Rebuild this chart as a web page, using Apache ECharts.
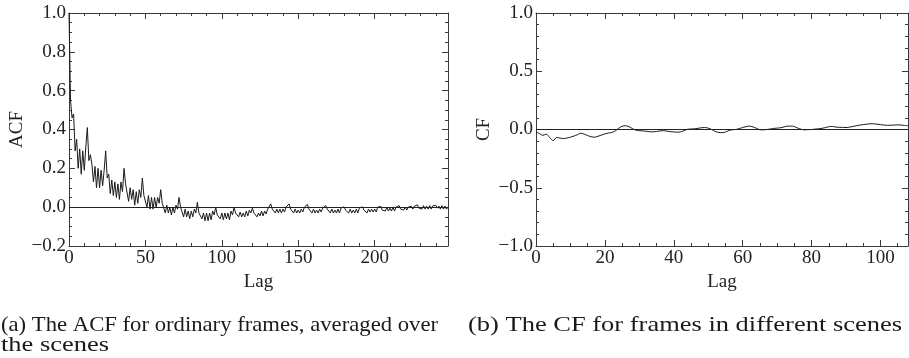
<!DOCTYPE html>
<html>
<head>
<meta charset="utf-8">
<script src="https://cdn.jsdelivr.net/npm/echarts@6/dist/echarts.min.js"></script>
<style>
html,body{margin:0;padding:0;background:#fff;}
#chart{width:909px;height:358px;}
</style>
</head>
<body>
<div id="chart"></div>
<script>
// ACF for ordinary frames (lag 0..248)
const acfValues = [
1.00, 0.55, 0.46, 0.48, 0.29, 0.35, 0.20, 0.30, 0.17, 0.29, 0.19, 0.31,
0.41, 0.24, 0.27, 0.22, 0.13, 0.21, 0.10, 0.20, 0.10, 0.19, 0.11, 0.19,
0.29, 0.15, 0.17, 0.07, 0.14, 0.06, 0.13, 0.05, 0.12, 0.04, 0.13, 0.08,
0.20, 0.12, 0.13, 0.03, 0.10, 0.04, 0.09, 0.01, 0.08, 0.02, 0.09, 0.05,
0.15, 0.06, 0.07, 0.00, 0.06, -0.01, 0.05, -0.01, 0.05, 0.00, 0.05, 0.02,
0.09, 0.02, 0.03, -0.03, 0.01, -0.03, 0.00, -0.04, 0.00, -0.03, 0.01, -0.01,
0.05, 0.00, 0.00, -0.05, -0.01, -0.05, -0.02, -0.06, -0.02, -0.05, -0.01, -0.03,
0.025, -0.03, -0.03, -0.06, -0.03, -0.07, -0.03, -0.07, -0.03, -0.065, -0.02, -0.04,
0.00, -0.04, -0.04, -0.06, -0.03, -0.065, -0.03, -0.06, -0.03, -0.065, -0.02, -0.04,
0.00, -0.03, -0.03, -0.05, -0.025, -0.05, -0.03, -0.05, -0.02, -0.045, -0.015, -0.03,
-0.005, -0.03, -0.03, -0.05, -0.03, -0.045, -0.02, -0.045, -0.02, -0.035, -0.01, -0.02,
0.017, -0.01, -0.01, -0.03, -0.01, -0.03, -0.01, -0.03, -0.01, -0.025, 0.00, -0.01,
0.017, -0.01, -0.01, -0.03, -0.01, -0.03, -0.015, -0.03, -0.01, -0.025, 0.00, -0.01,
0.014, -0.01, -0.01, -0.03, -0.01, -0.03, -0.015, -0.03, -0.01, -0.025, -0.005, -0.01,
0.008, -0.01, -0.015, -0.03, -0.01, -0.03, -0.015, -0.03, -0.01, -0.03, -0.005, -0.015,
0.002, -0.015, -0.015, -0.03, -0.01, -0.03, -0.015, -0.03, -0.01, -0.03, -0.005, -0.015,
0.002, -0.015, -0.01, -0.03, -0.01, -0.025, -0.01, -0.025, -0.01, -0.025, 0.00, -0.01,
0.004, -0.015, -0.005, -0.02, 0.00, -0.02, -0.005, -0.02, 0.00, -0.02, 0.00, -0.01,
0.008, -0.01, 0.00, -0.015, 0.00, -0.015, 0.00, -0.01, 0.005, -0.01, 0.005, 0.00,
0.012, -0.005, 0.005, -0.01, 0.008, -0.01, 0.005, -0.01, 0.008, -0.01, 0.006, 0.00,
0.01, -0.005, 0.006, -0.01, 0.008, -0.01, 0.006, -0.01, 0.00
];
// CF for frames in different scenes (lag 0..108)
const cfValues = [
-0.02, -0.035, -0.05, -0.04, -0.07, -0.095, -0.068, -0.074, -0.078, -0.073,
-0.066, -0.056, -0.045, -0.032, -0.04, -0.052, -0.062, -0.066, -0.058, -0.048,
-0.038, -0.03, -0.026, -0.012, 0.01, 0.028, 0.032, 0.024, 0.008, -0.006,
-0.01, -0.012, -0.015, -0.019, -0.02, -0.017, -0.012, -0.01, -0.014, -0.018,
-0.021, -0.023, -0.02, -0.01, 0.002, 0.004, 0.006, 0.01, 0.015, 0.017,
0.012, 0.0, -0.016, -0.025, -0.027, -0.022, -0.008, -0.002, 0.0, 0.008,
0.017, 0.025, 0.029, 0.022, 0.01, -0.002, -0.003, 0.0, 0.004, 0.009,
0.012, 0.015, 0.022, 0.029, 0.029, 0.025, 0.012, 0.002, -0.003, -0.001,
0.0, 0.003, 0.006, 0.01, 0.016, 0.024, 0.026, 0.021, 0.019, 0.018,
0.017, 0.02, 0.026, 0.032, 0.038, 0.042, 0.046, 0.049, 0.049, 0.046,
0.042, 0.038, 0.036, 0.037, 0.038, 0.04, 0.038, 0.035, 0.032
];
const acfTicks = [0, 50, 100, 150, 200];
const cfTicks = [0, 20, 40, 60, 80, 100];
const captionA1 = '(a) The ACF for ordinary frames, averaged over';
const captionA2 = 'the scenes';
const captionB = '(b) The CF for frames in different scenes';

const FONT = 'Liberation Serif';
const CAP_SIZE = 21;
const frameColor = '#3a3a3a';
const fmtNum = v => (v < 0 ? '\u2212' : '') + Math.abs(v).toFixed(1);

// measure caption widths to stretch them to the reference's line widths
const mctx = document.createElement('canvas').getContext('2d');
mctx.font = CAP_SIZE + 'px "' + FONT + '"';
const wB = mctx.measureText(captionB).width;
const wA1 = mctx.measureText(captionA1).width;
const scaleB = 434 / wB;
const scaleA1 = 437 / wA1;

function xAx(grid, max, interval, minorSplit, top, name, ticks) {
  return {
    type: 'value', gridIndex: grid, min: 0, max: max, interval: interval,
    position: top ? 'top' : 'bottom',
    name: top ? '' : name, nameLocation: 'middle', nameGap: 25,
    nameTextStyle: {fontFamily: FONT, fontSize: 19, color: '#222'},
    axisLine: {show: true, onZero: false, lineStyle: {color: frameColor, width: 1}},
    axisTick: {show: true, inside: true, length: 6, lineStyle: {color: frameColor}},
    minorTick: {show: true, splitNumber: minorSplit, length: 3, lineStyle: {color: frameColor}},
    splitLine: {show: false}, minorSplitLine: {show: false},
    axisLabel: {show: !top, margin: 3, fontFamily: FONT, fontSize: 19, color: '#222',
      showMaxLabel: false,
      formatter: v => ticks.indexOf(v) >= 0 ? String(v) : ''}
  };
}
function yAx(grid, min, max, interval, minorSplit, right, name) {
  return {
    type: 'value', gridIndex: grid, min: min, max: max, interval: interval,
    position: right ? 'right' : 'left',
    name: right ? '' : name, nameLocation: 'middle', nameGap: 42, nameRotate: 90,
    nameTextStyle: {fontFamily: FONT, fontSize: 19, color: '#222'},
    axisLine: {show: true, onZero: false, lineStyle: {color: frameColor, width: 1}},
    axisTick: {show: true, inside: true, length: 6, lineStyle: {color: frameColor}},
    minorTick: {show: true, splitNumber: minorSplit, length: 3, lineStyle: {color: frameColor}},
    splitLine: {show: false}, minorSplitLine: {show: false},
    axisLabel: {show: !right, margin: 3, fontFamily: FONT, fontSize: 19, color: '#222',
      formatter: fmtNum}
  };
}
const zeroLine = {
  silent: true, symbol: ['none', 'none'], label: {show: false},
  lineStyle: {color: '#222', width: 1, type: 'solid'},
  data: [{yAxis: 0}]
};
function capText(txt, x, y, sx) {
  return {type: 'text', x: x, y: y, scaleX: sx, silent: true,
    style: {text: txt, fontFamily: FONT, fontSize: CAP_SIZE, fill: '#1a1a1a',
      align: 'left', verticalAlign: 'middle'}};
}

const chart = echarts.init(document.getElementById('chart'), null, {renderer: 'canvas'});
chart.setOption({
  animation: false,
  backgroundColor: '#fff',
  grid: [
    {left: 69, top: 13, width: 379, height: 233},
    {left: 536, top: 13, width: 372, height: 233}
  ],
  xAxis: [
    xAx(0, 248, 50, 5, false, 'Lag', acfTicks),
    xAx(0, 248, 50, 5, true, '', acfTicks),
    xAx(1, 108, 20, 4, false, 'Lag', cfTicks),
    xAx(1, 108, 20, 4, true, '', cfTicks)
  ],
  yAxis: [
    yAx(0, -0.2, 1.0, 0.2, 4, false, 'ACF'),
    yAx(0, -0.2, 1.0, 0.2, 4, true, ''),
    yAx(1, -1.0, 1.0, 0.5, 5, false, 'CF'),
    yAx(1, -1.0, 1.0, 0.5, 5, true, '')
  ],
  graphic: [
    capText(captionA1, 1, 325, scaleA1),
    capText(captionA2, 1, 345, scaleB),
    capText(captionB, 468, 325, scaleB)
  ],
  series: [
    {type: 'line', xAxisIndex: 0, yAxisIndex: 0, showSymbol: false,
     lineStyle: {color: '#1a1a1a', width: 1},
     data: acfValues.map((v, i) => [i, v]), markLine: zeroLine},
    {type: 'line', xAxisIndex: 2, yAxisIndex: 2, showSymbol: false, smooth: 0.3,
     lineStyle: {color: '#1a1a1a', width: 1},
     data: cfValues.map((v, i) => [i, v]), markLine: zeroLine}
  ]
});
</script>
</body>
</html>
